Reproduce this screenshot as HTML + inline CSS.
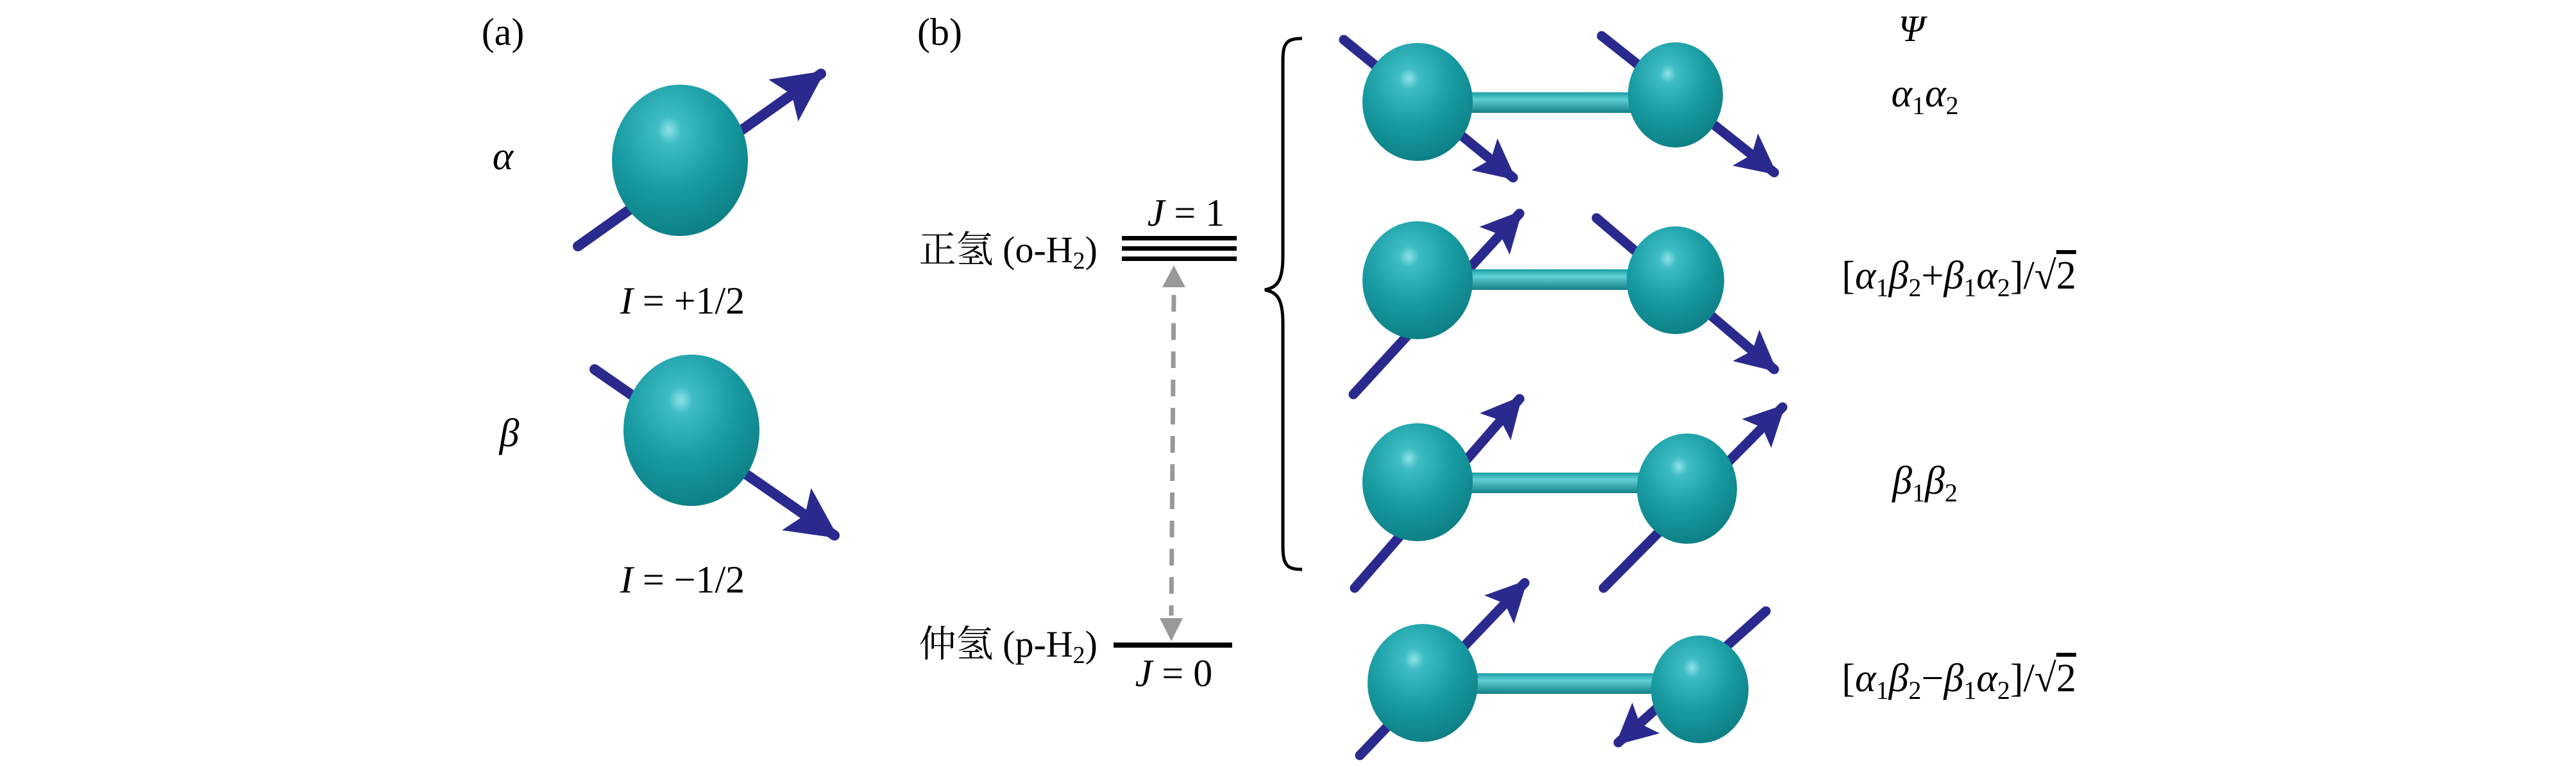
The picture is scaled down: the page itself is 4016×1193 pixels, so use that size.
<!DOCTYPE html>
<html><head><meta charset="utf-8"><style>
html,body{margin:0;padding:0;background:#fff;}
svg{display:block;}
text{font-family:"Liberation Serif","DejaVu Serif","Noto Serif CJK SC",serif;fill:#000;}
.m{font-style:italic;}
</style></head><body>
<svg width="4016" height="1193" viewBox="0 0 4016 1193" xmlns="http://www.w3.org/2000/svg" font-family="Liberation Serif, DejaVu Serif, Noto Serif CJK SC, serif">
<defs>
<radialGradient id="sp" cx="0.42" cy="0.3" r="0.75">
<stop offset="0" stop-color="#8fe3ea"/>
<stop offset="0.12" stop-color="#3fbcc4"/>
<stop offset="0.55" stop-color="#179aa1"/>
<stop offset="1" stop-color="#0c7c82"/>
</radialGradient>
<linearGradient id="bd" x1="0" y1="0" x2="0" y2="1">
<stop offset="0" stop-color="#1a9da4"/>
<stop offset="0.35" stop-color="#5fd0d6"/>
<stop offset="1" stop-color="#127f86"/>
</linearGradient>
<marker id="ah" viewBox="0 0 10 10" refX="9" refY="5" markerWidth="90" markerHeight="80" orient="auto" markerUnits="userSpaceOnUse">
<path d="M0,0 L10,5 L0,10 L2,5 Z" fill="#2a2a8e"/>
</marker>
<marker id="ah2" viewBox="0 0 10 10" refX="9" refY="5" markerWidth="72" markerHeight="64" orient="auto" markerUnits="userSpaceOnUse">
<path d="M0,0 L10,5 L0,10 L2,5 Z" fill="#2a2a8e"/>
</marker>
</defs>

<!-- (a) -->
<text x="784" y="70" font-size="60" text-anchor="middle">(a)</text>
<text x="784" y="264" font-size="62" class="m" text-anchor="middle">α</text>
<line x1="901" y1="384" x2="1280" y2="115" stroke="#2a2a8e" stroke-width="16" stroke-linecap="round" marker-end="url(#ah)"/>
<ellipse cx="1060" cy="250" rx="106" ry="118" fill="url(#sp)"/>
<text x="1064" y="489" font-size="60" text-anchor="middle"><tspan class="m">I</tspan> = +1/2</text>

<text x="794" y="696" font-size="62" class="m" text-anchor="middle">β</text>
<line x1="927" y1="576" x2="1301" y2="835" stroke="#2a2a8e" stroke-width="16" stroke-linecap="round" marker-end="url(#ah)"/>
<ellipse cx="1078" cy="671" rx="106" ry="118" fill="url(#sp)"/>
<text x="1064" y="924" font-size="60" text-anchor="middle"><tspan class="m">I</tspan> = −1/2</text>

<!-- (b) -->
<text x="1465" y="70" font-size="60" text-anchor="middle">(b)</text>
<text x="1711" y="409" font-size="58" text-anchor="end">正氢 (o-H<tspan font-size="38" dy="10">2</tspan><tspan dy="-10">)</tspan></text>
<text x="1849" y="352" font-size="60" text-anchor="middle"><tspan class="m">J</tspan> = 1</text>
<rect x="1749" y="368" width="179" height="7" fill="#000"/>
<rect x="1749" y="384" width="179" height="7" fill="#000"/>
<rect x="1749" y="400" width="179" height="7" fill="#000"/>
<line x1="1830" y1="460" x2="1826" y2="960" stroke="#999" stroke-width="7" stroke-dasharray="26,18"/>
<path d="M1830,414 L1812,448 L1848,448 Z" fill="#999"/>
<path d="M1826,1000 L1808,964 L1844,964 Z" fill="#999"/>
<text x="1711" y="1024" font-size="58" text-anchor="end">仲氢 (p-H<tspan font-size="38" dy="10">2</tspan><tspan dy="-10">)</tspan></text>
<rect x="1736" y="1002" width="185" height="8" fill="#000"/>
<text x="1830" y="1070" font-size="60" text-anchor="middle"><tspan class="m">J</tspan> = 0</text>

<!-- brace -->
<path d="M2030,60 C2005,60 2000,68 2000,95 L2000,400 C2000,440 1990,448 1972,452 C1990,456 2000,464 2000,504 L2000,850 C2000,880 2005,888 2030,888" fill="none" stroke="#000" stroke-width="5"/>

<!-- row 1 -->
<line x1="2095" y1="62" x2="2359" y2="277" stroke="#2a2a8e" stroke-width="15" stroke-linecap="round" marker-end="url(#ah2)"/>
<line x1="2497" y1="56" x2="2766" y2="269" stroke="#2a2a8e" stroke-width="15" stroke-linecap="round" marker-end="url(#ah2)"/>
<rect x="2280" y="144" width="300" height="32" fill="url(#bd)"/>
<ellipse cx="2210" cy="159" rx="86" ry="92" fill="url(#sp)"/>
<ellipse cx="2612" cy="148" rx="74" ry="82" fill="url(#sp)"/>
<!-- row 2 -->
<line x1="2110" y1="615" x2="2369" y2="333" stroke="#2a2a8e" stroke-width="15" stroke-linecap="round" marker-end="url(#ah2)"/>
<line x1="2489" y1="340" x2="2766" y2="576" stroke="#2a2a8e" stroke-width="15" stroke-linecap="round" marker-end="url(#ah2)"/>
<rect x="2280" y="420" width="300" height="32" fill="url(#bd)"/>
<ellipse cx="2210" cy="437" rx="86" ry="92" fill="url(#sp)"/>
<ellipse cx="2612" cy="437" rx="76" ry="84" fill="url(#sp)"/>
<!-- row 3 -->
<line x1="2112" y1="917" x2="2369" y2="622" stroke="#2a2a8e" stroke-width="15" stroke-linecap="round" marker-end="url(#ah2)"/>
<line x1="2500" y1="917" x2="2779" y2="635" stroke="#2a2a8e" stroke-width="15" stroke-linecap="round" marker-end="url(#ah2)"/>
<rect x="2280" y="737" width="320" height="32" fill="url(#bd)"/>
<ellipse cx="2210" cy="752" rx="86" ry="92" fill="url(#sp)"/>
<ellipse cx="2630" cy="762" rx="78" ry="86" fill="url(#sp)"/>
<!-- row 4 -->
<line x1="2120" y1="1178" x2="2377" y2="909" stroke="#2a2a8e" stroke-width="15" stroke-linecap="round" marker-end="url(#ah2)"/>
<line x1="2753" y1="953" x2="2523" y2="1158" stroke="#2a2a8e" stroke-width="15" stroke-linecap="round" marker-end="url(#ah2)"/>
<rect x="2290" y="1050" width="320" height="32" fill="url(#bd)"/>
<ellipse cx="2218" cy="1065" rx="86" ry="92" fill="url(#sp)"/>
<ellipse cx="2650" cy="1075" rx="76" ry="84" fill="url(#sp)"/>

<!-- Psi labels -->
<text x="2980" y="64" font-size="58" class="m" text-anchor="middle">Ψ</text>
<text x="3001" y="166" font-size="62" text-anchor="middle"><tspan class="m">α</tspan><tspan font-size="40" dy="12">1</tspan><tspan class="m" dy="-12">α</tspan><tspan font-size="40" dy="12">2</tspan></text>
<text x="3054" y="450" font-size="62" text-anchor="middle">[<tspan class="m">α</tspan><tspan font-size="40" dy="12">1</tspan><tspan class="m" dy="-12">β</tspan><tspan font-size="40" dy="12">2</tspan><tspan dy="-12">+</tspan><tspan class="m">β</tspan><tspan font-size="40" dy="12">1</tspan><tspan class="m" dy="-12">α</tspan><tspan font-size="40" dy="12">2</tspan><tspan dy="-12">]/√</tspan><tspan text-decoration="overline">2</tspan></text>
<text x="3001" y="770" font-size="62" text-anchor="middle"><tspan class="m">β</tspan><tspan font-size="40" dy="12">1</tspan><tspan class="m" dy="-12">β</tspan><tspan font-size="40" dy="12">2</tspan></text>
<text x="3054" y="1078" font-size="62" text-anchor="middle">[<tspan class="m">α</tspan><tspan font-size="40" dy="12">1</tspan><tspan class="m" dy="-12">β</tspan><tspan font-size="40" dy="12">2</tspan><tspan dy="-12">−</tspan><tspan class="m">β</tspan><tspan font-size="40" dy="12">1</tspan><tspan class="m" dy="-12">α</tspan><tspan font-size="40" dy="12">2</tspan><tspan dy="-12">]/√</tspan><tspan text-decoration="overline">2</tspan></text>
</svg>
</body></html>
